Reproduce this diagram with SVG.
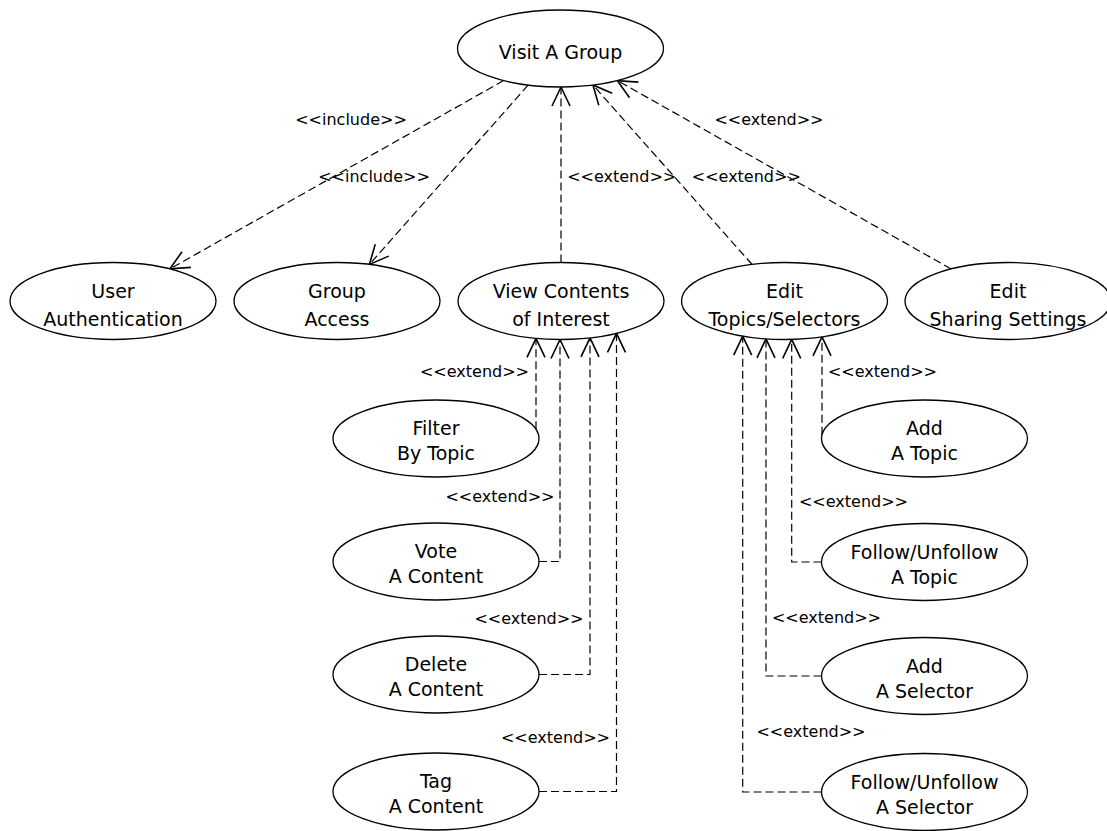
<svg xmlns="http://www.w3.org/2000/svg" width="1107" height="831" viewBox="0 0 1107 831">
  <style>
    .uc ellipse { fill: #ffffff; stroke: #000000; stroke-width: 1.3; }
    .uc text { font-family: "DejaVu Sans", "Liberation Sans", sans-serif; font-size: 19px; fill: #000000; text-anchor: middle; }
    .rel path { fill: none; stroke: #000000; stroke-width: 1.2; stroke-dasharray: 8 4; marker-end: url(#open-arrow); }
    .lbl text { font-family: "DejaVu Sans", "Liberation Sans", sans-serif; font-size: 16px; fill: #000000; text-anchor: middle; }
  </style>
  <defs>
    <marker id="open-arrow" markerUnits="userSpaceOnUse" orient="auto" refX="0" refY="0" markerWidth="24" markerHeight="24" overflow="visible">
      <path d="M-19,-9 L0,0 L-19,9" fill="none" stroke="#000000" stroke-width="1.6" stroke-dasharray="none"/>
    </marker>
  </defs>
  <rect width="1107" height="831" fill="#ffffff"/>

  <!-- relationships -->
  <g id="connectors" class="rel">
    <path d="M503.6,80.6 L169.9,268.9"/>
    <path d="M528.1,85.1 L369.4,264.4"/>
    <path d="M561,262.5 L561,87"/>
    <path d="M752.1,264.5 L592.9,85"/>
    <path d="M951.1,268.9 L617.4,80.6"/>

    <path d="M536,429.3 L536,338.3"/>
    <path d="M539,561.5 L560,561.5 L560,339.5"/>
    <path d="M539,674.5 L590,674.5 L590,337.9"/>
    <path d="M539,791.5 L616.5,791.5 L616.5,333.4"/>

    <path d="M822,434.7 L822,336.9"/>
    <path d="M821.5,562 L791.7,562 L791.7,339.4"/>
    <path d="M821.5,676 L766,676 L766,338.9"/>
    <path d="M821.5,792 L742.7,792 L742.7,336.2"/>
  </g>

  <!-- stereotype labels -->
  <g id="labels" class="lbl">
    <text x="351" y="125">&lt;&lt;include&gt;&gt;</text>
    <text x="374" y="181.7">&lt;&lt;include&gt;&gt;</text>
    <text x="769" y="125">&lt;&lt;extend&gt;&gt;</text>
    <text x="621.7" y="181.7">&lt;&lt;extend&gt;&gt;</text>
    <text x="746.3" y="181.7">&lt;&lt;extend&gt;&gt;</text>
    <text x="474.5" y="376.7">&lt;&lt;extend&gt;&gt;</text>
    <text x="500" y="501.7">&lt;&lt;extend&gt;&gt;</text>
    <text x="529" y="624.3">&lt;&lt;extend&gt;&gt;</text>
    <text x="555.5" y="743.3">&lt;&lt;extend&gt;&gt;</text>
    <text x="882.5" y="376.7">&lt;&lt;extend&gt;&gt;</text>
    <text x="853.5" y="506.7">&lt;&lt;extend&gt;&gt;</text>
    <text x="826.5" y="622.7">&lt;&lt;extend&gt;&gt;</text>
    <text x="811" y="736.7">&lt;&lt;extend&gt;&gt;</text>
  </g>

  <!-- use cases -->
  <g id="visit-group" class="uc">
    <ellipse cx="560.5" cy="48.5" rx="103" ry="38.5"/>
    <text x="560.5" y="59">Visit A Group</text>
  </g>
  <g id="user-authentication" class="uc">
    <ellipse cx="113" cy="301" rx="103" ry="38.5"/>
    <text x="113" y="298">User</text>
    <text x="113" y="326">Authentication</text>
  </g>
  <g id="group-access" class="uc">
    <ellipse cx="337" cy="301" rx="103" ry="38.5"/>
    <text x="337" y="298">Group</text>
    <text x="337" y="326">Access</text>
  </g>
  <g id="view-contents" class="uc">
    <ellipse cx="561" cy="301" rx="103" ry="38.5"/>
    <text x="561" y="298">View Contents</text>
    <text x="561" y="326">of Interest</text>
  </g>
  <g id="edit-topics-selectors" class="uc">
    <ellipse cx="784.5" cy="301" rx="103" ry="38.5"/>
    <text x="784.5" y="298">Edit</text>
    <text x="784.5" y="326">Topics/Selectors</text>
  </g>
  <g id="edit-sharing-settings" class="uc">
    <ellipse cx="1008" cy="301" rx="103" ry="38.5"/>
    <text x="1008" y="298">Edit</text>
    <text x="1008" y="326">Sharing Settings</text>
  </g>

  <g id="filter-by-topic" class="uc">
    <ellipse cx="436" cy="438.5" rx="103" ry="38.5"/>
    <text x="436" y="435">Filter</text>
    <text x="436" y="460">By Topic</text>
  </g>
  <g id="vote-content" class="uc">
    <ellipse cx="436" cy="561.5" rx="103" ry="38.5"/>
    <text x="436" y="558">Vote</text>
    <text x="436" y="583">A Content</text>
  </g>
  <g id="delete-content" class="uc">
    <ellipse cx="436" cy="674.5" rx="103" ry="38.5"/>
    <text x="436" y="671">Delete</text>
    <text x="436" y="696">A Content</text>
  </g>
  <g id="tag-content" class="uc">
    <ellipse cx="436" cy="791.5" rx="103" ry="38.5"/>
    <text x="436" y="788">Tag</text>
    <text x="436" y="813">A Content</text>
  </g>

  <g id="add-topic" class="uc">
    <ellipse cx="924.5" cy="438.5" rx="103" ry="38.5"/>
    <text x="924.5" y="435">Add</text>
    <text x="924.5" y="460">A Topic</text>
  </g>
  <g id="follow-topic" class="uc">
    <ellipse cx="924.5" cy="562" rx="103" ry="38.5"/>
    <text x="924.5" y="558.5">Follow/Unfollow</text>
    <text x="924.5" y="583.5">A Topic</text>
  </g>
  <g id="add-selector" class="uc">
    <ellipse cx="924.5" cy="676" rx="103" ry="38.5"/>
    <text x="924.5" y="672.5">Add</text>
    <text x="924.5" y="697.5">A Selector</text>
  </g>
  <g id="follow-selector" class="uc">
    <ellipse cx="924.5" cy="792" rx="103" ry="38.5"/>
    <text x="924.5" y="788.5">Follow/Unfollow</text>
    <text x="924.5" y="813.5">A Selector</text>
  </g>
</svg>
